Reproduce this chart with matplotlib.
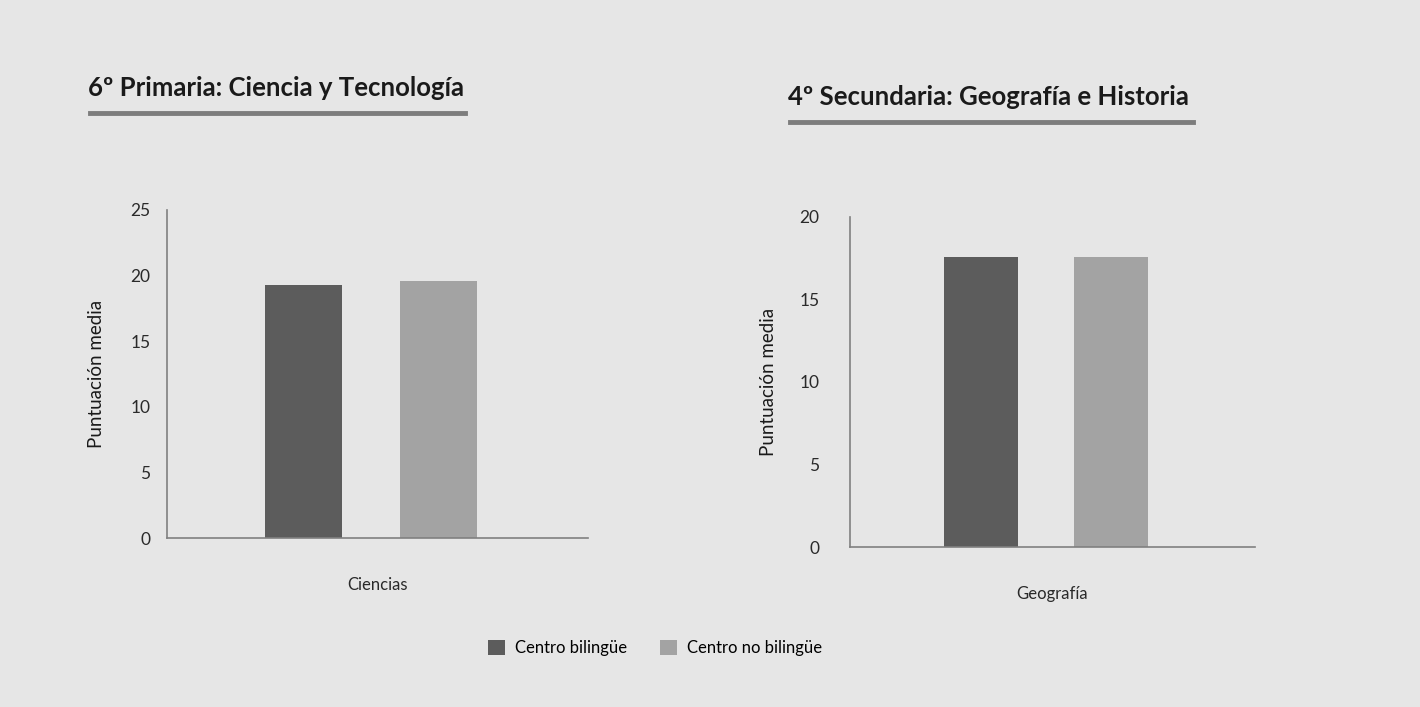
import matplotlib.pyplot as plt
from matplotlib.lines import Line2D
from matplotlib.patches import Patch

plt.rcParams['font.family'] = ['Lato', 'DejaVu Sans']

# data
series = ["Centro bilingüe", "Centro no bilingüe"]
colors = ["#5c5c5c", "#a3a3a3"]

titles = ["6º Primaria: Ciencia y Tecnología", "4º Secundaria: Geografía e Historia"]
categories = ["Ciencias", "Geografía"]
primaria = [19.3, 19.6]
secundaria = [17.6, 17.6]
yticks_prim = [0, 5, 10, 15, 20, 25]
yticks_sec = [0, 5, 10, 15, 20]

bg = "#e6e6e6"
fig = plt.figure(figsize=(14.2, 7.07), dpi=100, facecolor=bg)

ax1 = fig.add_axes([0.1176, 0.239, 0.2965, 0.464])
ax2 = fig.add_axes([0.5986, 0.2263, 0.2852, 0.4668])

panels = [
    (ax1, primaria, yticks_prim, categories[0], titles[0]),
    (ax2, secundaria, yticks_sec, categories[1], titles[1]),
]
offs = [-0.5, 0.5]

for ax, vals, yt, cat, tit in panels:
    ax.set_facecolor(bg)
    for k in range(2):
        ax.bar(offs[k], vals[k], width=0.57, color=colors[k], zorder=2)
    ax.set_xlim(-1.51, 1.61)
    ax.set_ylim(0, yt[-1])
    ax.set_yticks(yt)
    ax.set_xticks([])
    ax.tick_params(axis='y', length=0, pad=12, labelsize=12.5, labelcolor="#2a2a2a")
    for s in ["top", "right"]:
        ax.spines[s].set_visible(False)
    for s in ["left", "bottom"]:
        ax.spines[s].set_color("#808080")
        ax.spines[s].set_linewidth(1.2)
    ax.set_xlabel(cat, fontsize=12, color="#2a2a2a", labelpad=28)
    ax.set_ylabel("Puntuación media", fontsize=13.5, color="#1a1a1a", labelpad=18)

ax2.tick_params(axis='y', pad=22)
ax2.yaxis.labelpad = 16

# titles with underline
fig.text(88 / 1420, 1 - 88 / 707, titles[0], fontsize=18.5, fontweight='bold',
         color="#1a1a1a", va='center', ha='left')
fig.add_artist(Line2D([90 / 1420, 465 / 1420], [1 - 113 / 707, 1 - 113 / 707],
                      color="#7d7d7d", lw=3.5))
fig.text(788 / 1420, 1 - 97 / 707, titles[1], fontsize=18.5, fontweight='bold',
         color="#1a1a1a", va='center', ha='left')
fig.add_artist(Line2D([790 / 1420, 1193 / 1420], [1 - 122 / 707, 1 - 122 / 707],
                      color="#7d7d7d", lw=3.5))

handles = [Patch(facecolor=c, edgecolor='none') for c in colors]
fig.legend(handles, series, loc='center', bbox_to_anchor=(655 / 1420, 1 - 648 / 707),
           ncol=2, frameon=False, fontsize=12, handlelength=1.0, handleheight=1.0,
           handletextpad=0.6, columnspacing=2.0)

fig.savefig("out.png", dpi=100, facecolor=bg)
